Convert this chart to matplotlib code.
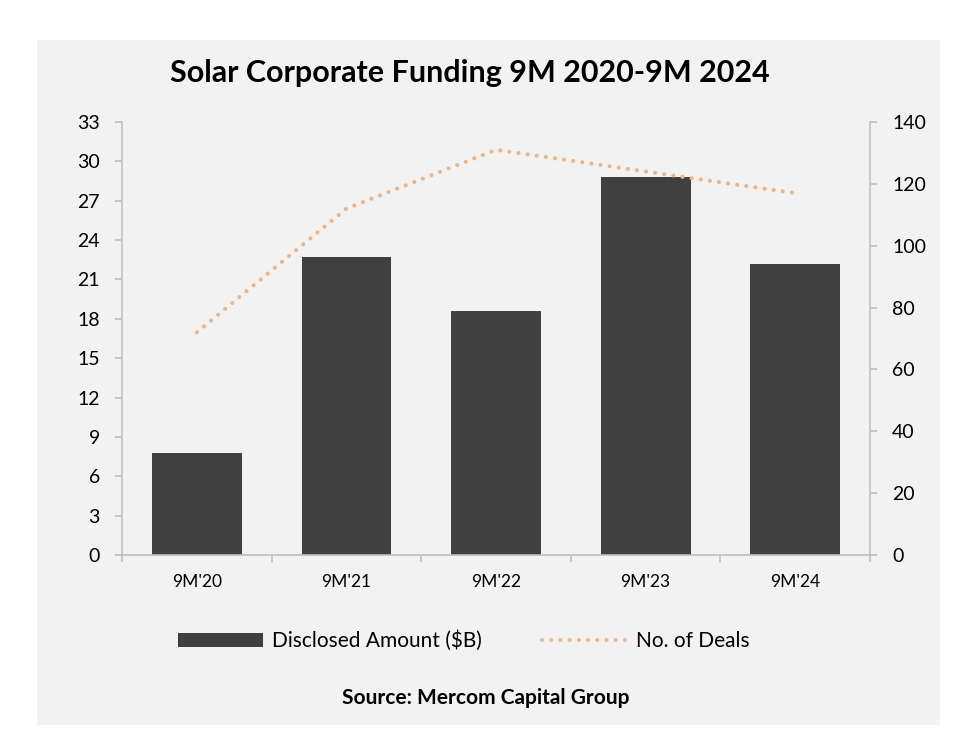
import matplotlib.pyplot as plt
from matplotlib.patches import Rectangle
from matplotlib.lines import Line2D
import numpy as np

plt.rcParams['font.family'] = ['Lato', 'DejaVu Sans']

# Dữ liệu
periods = ["9M'20", "9M'21", "9M'22", "9M'23", "9M'24"]
amount_bn = [7.8, 22.7, 18.6, 28.8, 22.2]
deals = [72, 112, 131, 124, 117]

bar_color = '#404040'
line_color = '#edb789'
axis_color = '#bfbfbf'

fig = plt.figure(figsize=(9.8, 7.47), dpi=100)
fig.patch.set_facecolor('white')
fig.patches.append(Rectangle((0.0378, 0.0295), 0.921, 0.917, transform=fig.transFigure,
                             facecolor='#f2f2f2', edgecolor='none', zorder=-10))

ax = fig.add_axes([0.1245, 0.257, 0.7633, 0.5797])
ax.set_facecolor('none')
x = np.arange(len(periods))
ax.bar(x, amount_bn, width=0.6, color=bar_color, zorder=2)
ax.set_xlim(-0.5, len(periods) - 0.5)
ax.set_ylim(0, 33)
ax.set_yticks(range(0, 34, 3))

# Trục x: vạch chia ở ranh giới, nhãn ở giữa
ax.set_xticks(np.arange(-0.5, len(periods), 1.0))
ax.set_xticklabels([])
ax.set_xticks(x, minor=True)
ax.set_xticklabels(periods, minor=True, fontsize=12.5)
ax.tick_params(axis='x', which='major', length=5, color=axis_color, width=1.2)
ax.tick_params(axis='x', which='minor', length=0, pad=14)
ax.tick_params(axis='y', length=5, color=axis_color, width=1.2, labelsize=14, pad=11)

for s in ['top', 'right']:
    ax.spines[s].set_visible(False)
for s in ['left', 'bottom']:
    ax.spines[s].set_color(axis_color)
    ax.spines[s].set_linewidth(1.2)

ax2 = ax.twinx()
ax2.plot(x, deals, color=line_color, linewidth=3, linestyle=(0, (0.01, 2.2)),
         dash_capstyle='round', zorder=3)
ax2.set_ylim(0, 140)
ax2.set_yticks(range(0, 141, 20))
ax2.tick_params(axis='y', length=5, color=axis_color, width=1.2, labelsize=14, pad=11)
for s in ['top', 'left', 'bottom']:
    ax2.spines[s].set_visible(False)
ax2.spines['right'].set_color(axis_color)
ax2.spines['right'].set_linewidth(1.2)

fig.text(0.479, 0.902, 'Solar Corporate Funding 9M 2020-9M 2024', ha='center', va='center',
         fontsize=22, fontweight='bold')

handles = [Rectangle((0, 0), 1, 1, facecolor=bar_color, edgecolor='none'),
           Line2D([0], [0], color=line_color, linewidth=3, linestyle=(0, (0.01, 2.2)),
                  dash_capstyle='round')]
fig.legend(handles, ['Disclosed Amount ($B)', 'No. of Deals'], loc='center',
           bbox_to_anchor=(0.473, 0.142), ncol=2, frameon=False, fontsize=15,
           handlelength=4.1, handleheight=0.6, handletextpad=0.4, columnspacing=2.9)

fig.text(0.496, 0.0656, 'Source: Mercom Capital Group', ha='center', va='center',
         fontsize=15, fontweight='bold')

plt.savefig('out.png', dpi=100)
plt.close(fig)
